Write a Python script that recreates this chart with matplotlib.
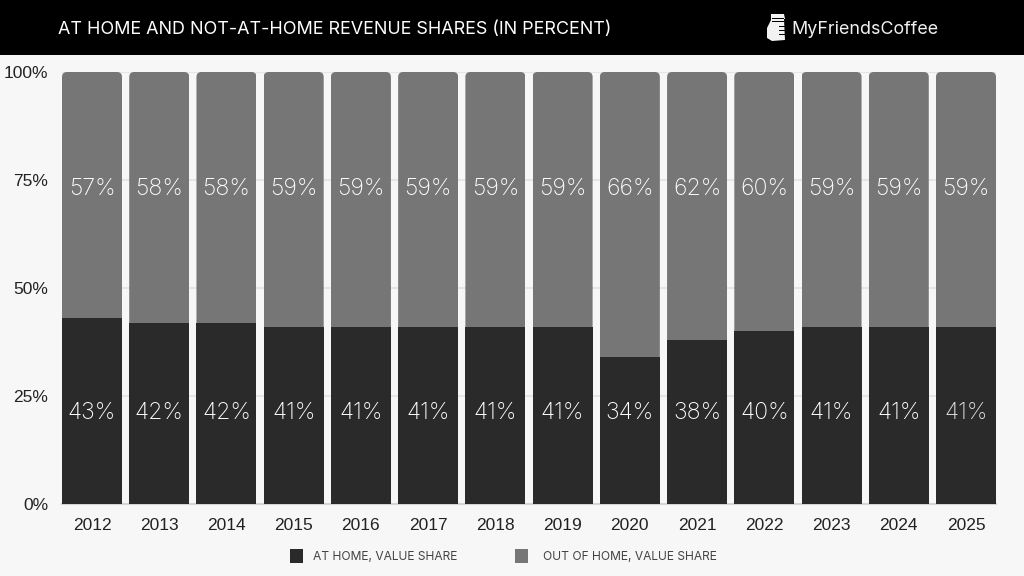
#!/usr/bin/env python

import matplotlib
matplotlib.use('Agg')
import matplotlib.pyplot as plt
from matplotlib.patches import FancyBboxPatch, Polygon, Rectangle

years = ['2012', '2013', '2014', '2015', '2016', '2017', '2018',
         '2019', '2020', '2021', '2022', '2023', '2024', '2025']
at_home = [43, 42, 42, 41, 41, 41, 41, 41, 34, 38, 40, 41, 41, 41]
out_of_home = [57, 58, 58, 59, 59, 59, 59, 59, 66, 62, 60, 59, 59, 59]
y_ticks = [0, 25, 50, 75, 100]
y_tick_labels = ['0%', '25%', '50%', '75%', '100%']

W, H = 1024, 576
DARK = '#2a2a2a'
GREY = '#767676'
BG = '#f7f7f7'
HEAD_FONT = ['Inter', 'DejaVu Sans']
TICK_FONT = ['Liberation Sans', 'DejaVu Sans']

fig = plt.figure(figsize=(W / 100, H / 100), dpi=100, facecolor=BG)

# axes box in pixels: first bar starts at 62, last ends at 996, 0% at y=504, 100% at y=72
ax = fig.add_axes([62 / W, (H - 504) / H, 934 / W, 432 / H], facecolor=BG)
x = list(range(len(years)))
step = 67.23
bar_w = 60 / step

ax.set_axisbelow(True)
ax.yaxis.grid(True, color='#e6e6e6', linewidth=1.5)
ax.bar(x, at_home, width=bar_w, color=DARK, linewidth=0, zorder=3)
upper = ax.bar(x, out_of_home, bottom=at_home, width=bar_w, color=GREY, linewidth=0, zorder=3)

# rounded top corners on the grey bars
round_x = 5 / step
round_aspect = (5 / 4.32) / round_x
for b in upper:
    clip = FancyBboxPatch((b.get_x() + round_x, -20), b.get_width() - 2 * round_x,
                          120 - round_x * round_aspect,
                          boxstyle=f'round,pad={round_x},rounding_size={round_x}',
                          mutation_aspect=round_aspect, transform=ax.transData)
    b.set_clip_path(clip)

for i in x:
    # labels sit at one height in every column, the last dark one is dimmer
    low_color = '#dcdcdc' if i == len(years) - 1 else 'white'
    ax.text(i, 21.0, f'{at_home[i]}%', color=low_color, fontsize=16.6, ha='center',
            va='center', family=HEAD_FONT, fontweight='light', zorder=4)
    ax.text(i, 72.9, f'{out_of_home[i]}%', color='white', fontsize=16.6, ha='center',
            va='center', family=HEAD_FONT, fontweight='light', zorder=4)

ax.set_xlim(-bar_w / 2, len(years) - 1 + bar_w / 2)
ax.set_ylim(0, 100)
ax.set_xticks(x, years)
ax.set_yticks(y_ticks, y_tick_labels)
ax.tick_params(length=0)
ax.tick_params(axis='x', pad=10, labelsize=12.5, labelcolor='#222222')
ax.tick_params(axis='y', pad=10, labelsize=12.5, labelcolor='#222222')
for lab in ax.get_xticklabels() + ax.get_yticklabels():
    lab.set_family(TICK_FONT)
for side in ['top', 'left', 'right']:
    ax.spines[side].set_visible(False)
ax.spines['bottom'].set_color('#d4d4d4')
ax.spines['bottom'].set_linewidth(1.5)


def px_rect(x0, y0, w, h, color):
    fig.add_artist(Rectangle((x0 / W, 1 - (y0 + h) / H), w / W, h / H, color=color,
                             linewidth=0, transform=fig.transFigure))


def px_text(x0, y0, s, size, color, weight='normal'):
    fig.text(x0 / W, 1 - y0 / H, s, fontsize=size, color=color, family=HEAD_FONT,
             fontweight=weight, ha='left', va='center')


# header band
px_rect(0, 0, W, 55, 'black')
px_text(58, 29.5, 'AT HOME AND NOT-AT-HOME REVENUE SHARES (IN PERCENT)', 12.93, 'white')
px_text(791, 29, 'MyFriendsCoffee', 12.9, '#f0f0f0')

# logo, a hand holding a takeaway cup
cup = [(771, 14), (784, 14), (785, 19), (784, 19), (785, 40), (772, 41), (767, 38),
       (767, 28), (771, 20)]
fig.add_artist(Polygon([(px / W, 1 - py / H) for px, py in cup], closed=True,
                       color='#f2f2f2', linewidth=0, transform=fig.transFigure))
px_rect(772, 18, 12, 1, 'black')
px_rect(772, 21, 12, 1, 'black')
px_rect(779, 26, 6, 1, 'black')
px_rect(779, 30, 6, 1, 'black')
px_rect(779, 34, 6, 1, 'black')

# legend
px_rect(290, 549, 13, 14, DARK)
px_text(313, 557, 'AT HOME, VALUE SHARE', 8.65, '#444444')
px_rect(515, 549, 13, 14, GREY)
px_text(543, 557, 'OUT OF HOME, VALUE SHARE', 8.65, '#444444')

fig.savefig('out.png', dpi=100, facecolor=BG)
plt.close(fig)
